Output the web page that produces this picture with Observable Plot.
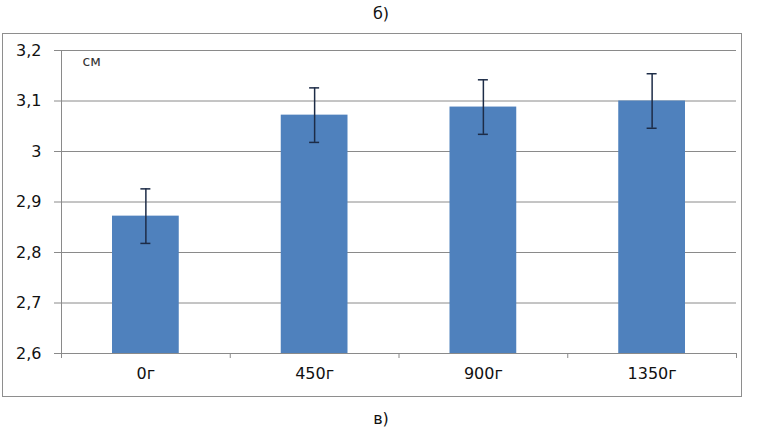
<!DOCTYPE html>
<html><head><meta charset="utf-8">
<script src="https://cdn.jsdelivr.net/npm/d3@7"></script>
<script src="https://cdn.jsdelivr.net/npm/@observablehq/plot@0.6"></script>
<style>
body{margin:0;background:#fff;font-family:"DejaVu Sans",sans-serif;}
#wrap{position:relative;width:758px;height:433px;overflow:hidden;background:#fff;}
#top,#bot{position:absolute;left:0;width:762px;text-align:center;font-size:16px;color:#111;line-height:20px;}
#top{top:4px;}
#bot{top:409px;}
#box{position:absolute;left:2px;top:33px;width:738px;height:362px;border:1.5px solid #8e8e8e;}
#chart{position:absolute;left:0;top:33px;}
</style></head>
<body>
<div id="wrap">
  <div id="top">б)</div>
  <div id="box"></div>
  <div id="chart"></div>
  <div id="bot">в)</div>
</div>
<script>
const categories = ["0г", "450г", "900г", "1350г"];
const means = [2.872, 3.072, 3.088, 3.100];
const errors = [0.054, 0.054, 0.054, 0.054];
const yTicks = [2.6, 2.7, 2.8, 2.9, 3.0, 3.1, 3.2];
const unitLabel = "см";

const data = categories.map((c, i) => ({i, c, v: means[i], e: errors[i]}));
const caps = data.flatMap(d => [{i: d.i, y: d.v - d.e}, {i: d.i, y: d.v + d.e}]);
const fmt = d => String(+d.toFixed(1)).replace(".", ",");
const yMin = yTicks[0];

const chart = Plot.plot({
  width: 758,
  height: 364,
  marginTop: 17,
  marginBottom: 44,
  marginLeft: 61,
  marginRight: 22,
  style: {fontFamily: "DejaVu Sans, sans-serif", background: "transparent", color: "#111"},
  x: {type: "linear", domain: [0, categories.length], axis: null},
  y: {domain: [yTicks[0], yTicks[yTicks.length - 1]], axis: null},
  marks: [
    Plot.ruleY(yTicks.slice(1), {stroke: "#8a8a8a", strokeWidth: 1}),
    Plot.rect(data, {x1: d => d.i, x2: d => d.i + 1, y1: yMin, y2: d => d.v, fill: "#4F81BD", insetLeft: 51, insetRight: 51}),
    Plot.ruleX(data, {x: d => d.i + 0.5, y1: d => d.v - d.e, y2: d => d.v + d.e, stroke: "#1d2c47", strokeWidth: 1.5}),
    Plot.ruleY(caps, {y: "y", x1: d => d.i + 0.5, x2: d => d.i + 0.5, insetLeft: -5, insetRight: -5, stroke: "#1d2c47", strokeWidth: 1.5}),
    Plot.ruleX([0], {stroke: "#8a8a8a"}),
    Plot.ruleY([yMin], {stroke: "#8a8a8a"}),
    Plot.axisY(yTicks, {label: null, tickSize: 7, tickPadding: 13, tickFormat: fmt, fontSize: 16, stroke: "#8a8a8a", fill: "#111"}),
    Plot.axisX(d3.range(categories.length + 1), {label: null, tickSize: 5, tickFormat: () => "", stroke: "#8a8a8a"}),
    Plot.axisX(data.map(d => d.i + 0.5), {label: null, tickSize: 0, tickPadding: 14, fontSize: 16, tickFormat: d => categories[Math.floor(d)], fill: "#111"}),
    Plot.text([unitLabel], {frameAnchor: "top-left", dx: 21, dy: 6, fontSize: 14, fill: "#333", text: d => d, style: "letter-spacing:2px"})
  ]
});
document.getElementById("chart").appendChild(chart);
</script>
</body></html>
